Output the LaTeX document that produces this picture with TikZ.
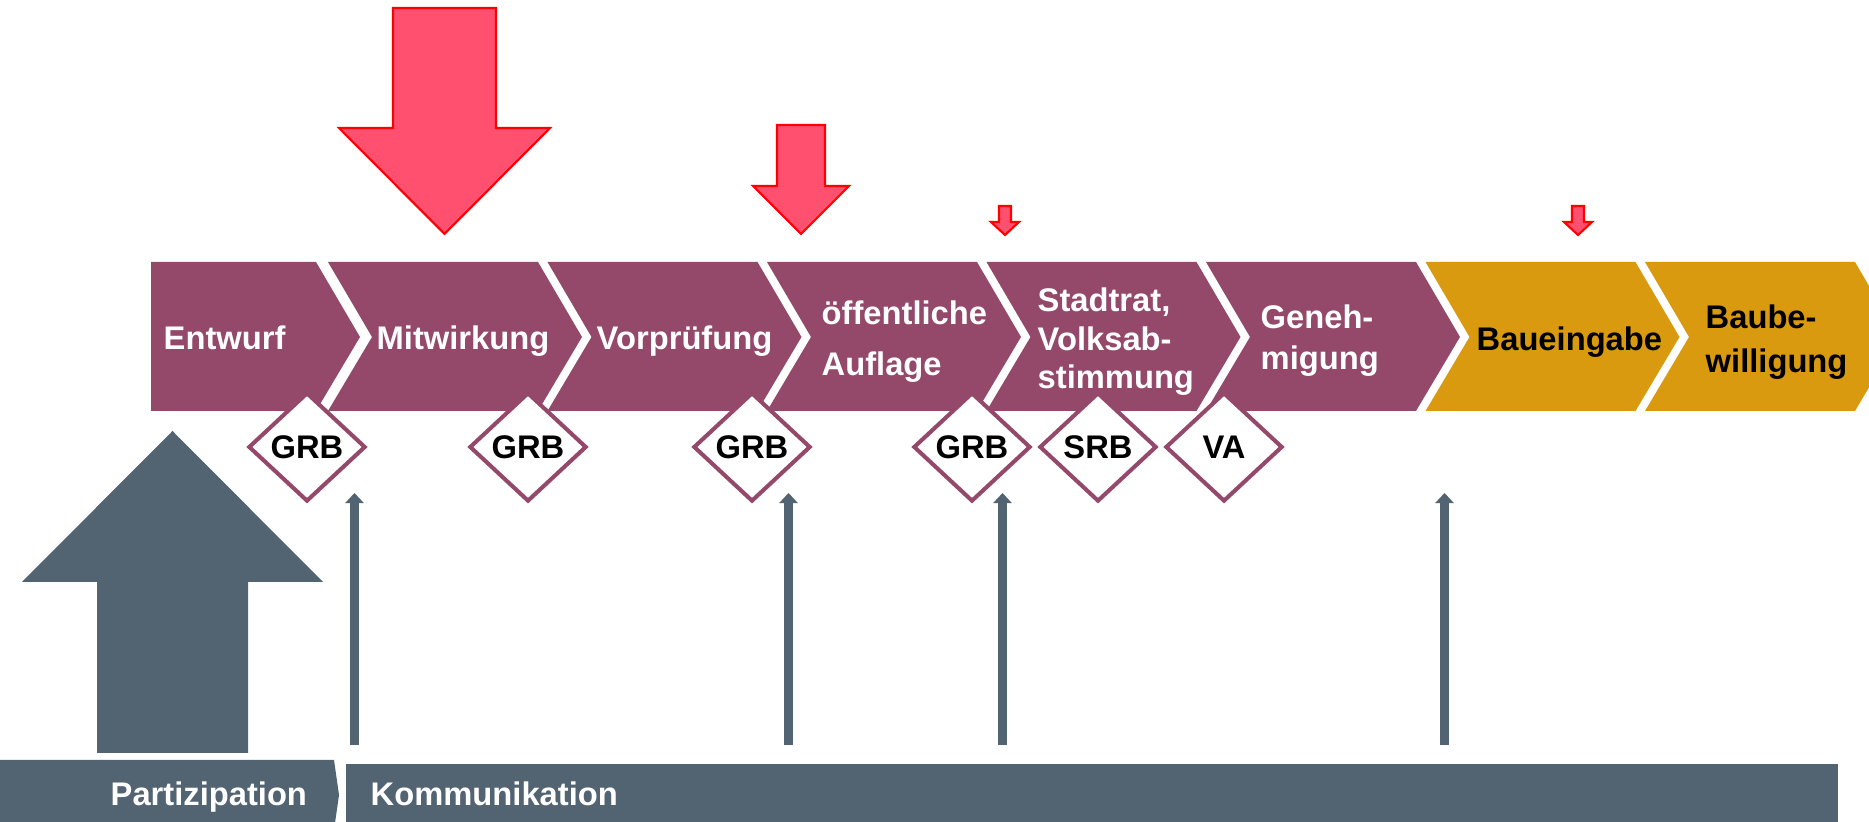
\documentclass[tikz,border=0pt]{standalone}
\usepackage{fontspec}
\setmainfont{Liberation Sans}
\usetikzlibrary{shapes.geometric,arrows.meta}

\definecolor{phasepurple}{HTML}{94486A}
\definecolor{phasegold}{HTML}{D99A0F}
\definecolor{infogray}{HTML}{526372}
\definecolor{hintred}{HTML}{FF5070}

\tikzset{
  phase/.style={fill=phasepurple},
  building/.style={fill=phasegold},
  strip/.style={fill=infogray},
  hint/.style={fill=hintred,draw=red,line width=0.6pt,line join=miter},
  phaselabel/.style={text=white,inner sep=0pt,align=left,
    font=\bfseries\fontsize{9.3pt}{11pt}\selectfont},
  decision/.style={shape=diamond,draw=phasepurple,fill=white,line width=1.15pt,
    inner sep=0pt,minimum width=1.17cm,minimum height=1.09cm,
    font=\bfseries\fontsize{9.3pt}{11pt}\selectfont},
  infoarrow/.style={draw=infogray,line width=0.09cm,-{Triangle[length=0.1cm,width=0.18cm]}},
}

\begin{document}
\begin{tikzpicture}[x=0.01cm,y=-0.01cm]
  \useasboundingbox (0,0) rectangle (1869,822);
  \fill[white] (0,0) rectangle (1869,822);
  \begin{scope}
  \clip (0,0) rectangle (1869,822);

  % red hints on top
  \fill[hint] (393,8) -- (496,8) -- (496,128) -- (550,128) -- (444.5,234) -- (339,128) -- (393,128) -- cycle;
  \fill[hint] (777,125) -- (825,125) -- (825,186) -- (849,186) -- (801,234) -- (753,186) -- (777,186) -- cycle;
  \fill[hint] (999,206) -- (1011,206) -- (1011,222) -- (1019,222) -- (1005,235) -- (991,222) -- (999,222) -- cycle;
  \fill[hint] (1572,206) -- (1584,206) -- (1584,222) -- (1592,222) -- (1578,235) -- (1564,222) -- (1572,222) -- cycle;

  % phases
  \fill[phase] (151,262) -- (316,262) -- (360,337) -- (316,411) -- (151,411) -- cycle;
  \fill[phase] (328,262) -- ++(210,0) -- ++(44,75) -- ++(-44,74) -- ++(-210,0) -- ++(44,-74) -- cycle;
  \fill[phase] (547.5,262) -- ++(210,0) -- ++(44,75) -- ++(-44,74) -- ++(-210,0) -- ++(44,-74) -- cycle;
  \fill[phase] (767,262) -- ++(210,0) -- ++(44,75) -- ++(-44,74) -- ++(-210,0) -- ++(44,-74) -- cycle;
  \fill[phase] (986.5,262) -- ++(210,0) -- ++(44,75) -- ++(-44,74) -- ++(-210,0) -- ++(44,-74) -- cycle;
  \fill[phase] (1206,262) -- ++(210,0) -- ++(44,75) -- ++(-44,74) -- ++(-210,0) -- ++(44,-74) -- cycle;
  \fill[building] (1425.5,262) -- ++(210,0) -- ++(44,75) -- ++(-44,74) -- ++(-210,0) -- ++(44,-74) -- cycle;
  \fill[building] (1645,262) -- ++(210,0) -- ++(44,75) -- ++(-44,74) -- ++(-210,0) -- ++(44,-74) -- cycle;

  \node[phaselabel,anchor=base west] (entwurf) at (163,350) {Entwurf};
  \node[phaselabel,anchor=base west] (mitwirkung) at (376,350) {Mitwirkung};
  \node[phaselabel,anchor=base west] (vorpruefung) at (596,350) {Vorprüfung};
  \node[phaselabel,anchor=north west] (auflage) at (821,300) {öffentliche\\[3.4pt]Auflage};
  \node[phaselabel,anchor=north west] (stadtrat) at (1037,287) {Stadtrat,\\Volksab-\\stimmung};
  \node[phaselabel,anchor=north west] (genehmigung) at (1260,304) {Geneh-\\[0.7pt]migung};
  \node[phaselabel,anchor=base west,text=black] (baueingabe) at (1476,351) {Baueingabe};
  \node[phaselabel,anchor=north west,text=black] (baubewilligung) at (1705,304) {Baube-\\[1.5pt]willigung};

  % decisions
  \node[decision] (grb a) at (307,447) {GRB};
  \node[decision] (grb b) at (528,447) {GRB};
  \node[decision] (grb c) at (752,447) {GRB};
  \node[decision] (grb d) at (972,447) {GRB};
  \node[decision] (srb) at (1098,447) {SRB};
  \node[decision] (va) at (1224,447) {VA};

  % participation and communication
  \fill[strip] (172.5,431) -- (323,582) -- (248,582) -- (248,753) -- (97,753) -- (97,582) -- (22,582) -- cycle;
  \fill[strip] (0,760) -- (334,760) -- (339,795) -- (334,830) -- (0,830) -- cycle;
  \fill[strip] (346,764) rectangle (1838,830);
  \node[phaselabel,anchor=base west] (partizipation) at (110,806) {Partizipation};
  \node[phaselabel,anchor=base west] (kommunikation) at (370,806) {Kommunikation};

  \coordinate (info a foot) at (354.5,745);
  \coordinate (info a head) at (354.5,493);
  \coordinate (info b foot) at (788.5,745);
  \coordinate (info b head) at (788.5,493);
  \coordinate (info c foot) at (1002.5,745);
  \coordinate (info c head) at (1002.5,493);
  \coordinate (info d foot) at (1444.5,745);
  \coordinate (info d head) at (1444.5,493);
  \draw[infoarrow] (info a foot) -- (info a head);
  \draw[infoarrow] (info b foot) -- (info b head);
  \draw[infoarrow] (info c foot) -- (info c head);
  \draw[infoarrow] (info d foot) -- (info d head);
  \end{scope}
\end{tikzpicture}
\end{document}
